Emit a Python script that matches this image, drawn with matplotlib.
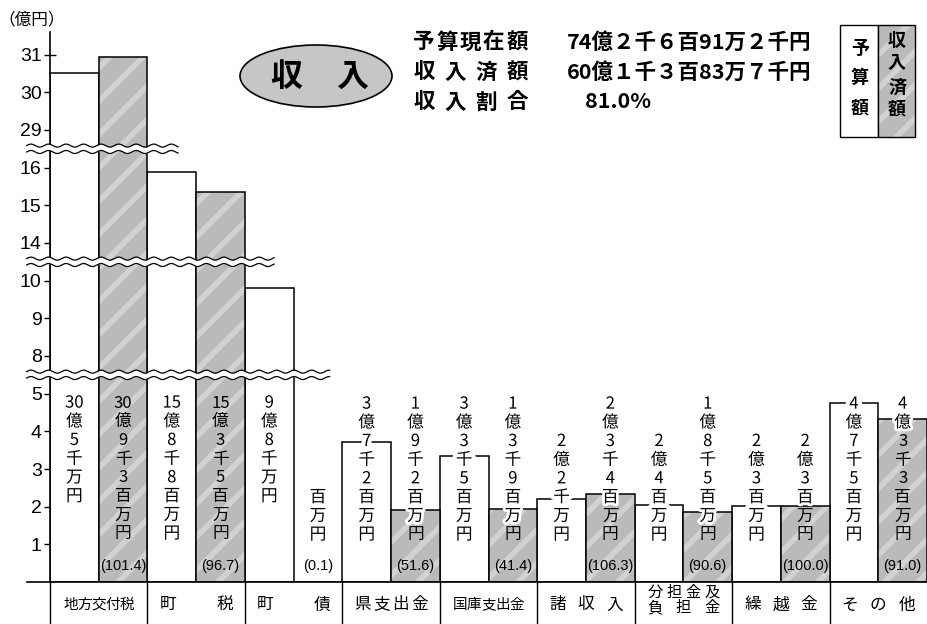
import re
import numpy as np
import matplotlib
matplotlib.use('Agg')
import matplotlib.pyplot as plt
import matplotlib.transforms as mtransforms
from matplotlib.patches import Ellipse, Rectangle
from matplotlib import patheffects as pe

plt.rcParams['font.family'] = ['Noto Sans CJK JP', 'DejaVu Sans']
plt.rcParams['hatch.linewidth'] = 4.0

# ---------------- data (億円) ----------------
categories = ['地方交付税', '町税', '町債', '県支出金', '国庫支出金',
              '諸収入', '分担金及負担金', '繰越金', 'その他']
budget = [30.50, 15.88, 9.80, 3.72, 3.35, 2.20, 2.04, 2.03, 4.75]
received = [30.93, 15.35, 0.01, 1.92, 1.93, 2.34, 1.85, 2.03, 4.33]
ratios = ['101.4', '96.7', '0.1', '51.6', '41.4', '106.3', '90.6', '100.0', '91.0']
budget_labels = ['30億5千万円', '15億8千8百万円', '9億8千万円', '3億7千2百万円',
                 '3億3千5百万円', '2億2千万円', '2億4百万円', '2億3百万円', '4億7千5百万円']
received_labels = ['30億9千3百万円', '15億3千5百万円', '百万円', '1億9千2百万円',
                   '1億3千9百万円', '2億3千4百万円', '1億8千5百万円', '2億3百万円', '4億3千3百万円']
yticks = [1, 2, 3, 4, 5, 8, 9, 10, 14, 15, 16, 29, 30, 31]
category_rows = [['地方交付税'], ['町税'], ['町債'], ['県支出金'], ['国庫支出金'],
                 ['諸収入'], ['分担金及', '負担金'], ['繰越金'], ['その他']]
summary_rows = [('予算現在額', '74億２千６百91万２千円'),
                ('収入済額', '60億１千３百83万７千円'),
                ('収入割合', '81.0%')]

# broken-axis scale: value breakpoints -> compressed display units
eps = 1e-3
seg_v = [0, 5.5, 7.5, 10.5, 13.5, 16.5, 28.5, 60]
seg_d = [0, 5.5, 5.5 + eps, 8.5 + eps, 8.5 + 2 * eps, 11.5 + 2 * eps, 11.5 + 3 * eps, 43 + 3 * eps]


def fwd(v):
    return np.interp(v, seg_v, seg_d)


def inv(d):
    return np.interp(d, seg_d, seg_v)


W, H = 928, 624
fig = plt.figure(figsize=(W / 100, H / 100), dpi=100)
ax = fig.add_axes([50 / W, 42 / H, 877 / W, 550 / H])
ax.set_yscale('function', functions=(fwd, inv))

x = np.arange(len(categories))
xb = x - 0.25
xr = x + 0.25

GRAY = '#bababa'
STRIPE = '#d2d2d2'

ax.bar(xb, budget, width=0.5, facecolor='white', edgecolor='black', lw=1.1, zorder=2)
ax.bar(xr, received, width=0.5, facecolor=GRAY, edgecolor=STRIPE, lw=0, hatch='/', zorder=2)
ax.bar(xr, received, width=0.5, fill=False, edgecolor='black', lw=1.1, zorder=2.1)

ax.set_xlim(-0.5, 8.5)
ax.set_ylim(0, 31.6)


def tokens(s):
    return re.findall(r'\d+|.', s)


pitch = 0.496
halo_w = [pe.withStroke(linewidth=6, foreground='white')]
halo_g = [pe.withStroke(linewidth=4, foreground='white')]
for i in range(len(categories)):
    for xc, top, lab, is_recv in [(xb[i], budget[i], budget_labels[i], False),
                                  (xr[i], received[i], received_labels[i], True)]:
        toks = tokens(lab)
        n = len(toks)
        if top > 5:
            ys = [4.75 - k * pitch for k in range(n)]
        else:
            ys = [1.25 + (n - 1 - k) * pitch for k in range(n)]
        for t, yy in zip(toks, ys):
            if not is_recv:
                eff = halo_w
            elif yy > top - 0.2:
                eff = halo_g
            else:
                eff = None
            ax.text(xc, yy, t, ha='center', va='center', fontsize=12,
                    zorder=4, path_effects=eff)
    ax.text(xr[i], 0.42, '(' + ratios[i] + ')', ha='center', va='center',
            fontsize=10.5, family=['Liberation Sans', 'DejaVu Sans'], zorder=4)

# axes styling
for s in ['top', 'right', 'bottom']:
    ax.spines[s].set_visible(False)
ax.spines['left'].set_linewidth(1.2)
ax.set_xticks([])
ax.set_yticks(yticks)
ax.set_yticklabels([str(t) for t in yticks], family=['Liberation Sans', 'DejaVu Sans'])
ax.tick_params(axis='y', direction='inout', length=8, width=1, pad=2, labelsize=14)
ax.yaxis.set_minor_locator(matplotlib.ticker.NullLocator())

# baseline and label-row grid
ax.plot([-0.74, 8.5], [0, 0], color='black', lw=1.2, clip_on=False, zorder=3)
tr2 = mtransforms.blended_transform_factory(ax.transData, ax.transAxes)
for xv in [-0.5] + [i + 0.5 for i in range(8)]:
    ax.plot([xv, xv], [0, -0.09], color='black', lw=1.0, transform=tr2, clip_on=False)

# category labels (justified)
span = 0.29
for i, rows in enumerate(category_rows):
    ypos = [-0.0418] if len(rows) == 1 else [-0.0185, -0.0465]
    for row, yv in zip(rows, ypos):
        chars = list(row)
        n = len(chars)
        if len(rows) > 1:
            fs = 11
        elif n >= 5:
            fs = 10.5
        else:
            fs = 12
        offs = np.linspace(-span, span, n) if n > 1 else [0]
        for c, dx in zip(chars, offs):
            ax.text(i + dx, yv, c, ha='center', va='center', fontsize=fs,
                    transform=tr2, clip_on=False)

# broken-axis wavy marks
tr_scaled = ax.transLimits + ax.transAxes
for yd, x1 in [(5.5, 2.37), (8.5 + eps, 1.80), (11.5 + 2 * eps, 0.814)]:
    xs = np.linspace(-0.74, x1, 500)
    w = 0.04 * np.sin(2 * np.pi * (xs + 0.74) / 0.18)
    up = yd + 0.085 + w
    lo = yd - 0.085 + w
    ax.fill_between(xs, lo, up, color='white', lw=0, transform=tr_scaled,
                    zorder=5, clip_on=False)
    ax.plot(xs, up, color='black', lw=0.9, transform=tr_scaled, zorder=6, clip_on=False)
    ax.plot(xs, lo, color='black', lw=0.9, transform=tr_scaled, zorder=6, clip_on=False)


def fx(px):
    return px / W


def fy(py):
    return 1 - py / H


fig.text(fx(32), fy(20), '（億円）', ha='center', va='center', fontsize=12)

# title ellipse
ell = Ellipse((fx(316), fy(76)), 152 / W, 62 / H, transform=fig.transFigure,
              facecolor='#c6c6c6', edgecolor='black', lw=1.2)
fig.add_artist(ell)
fig.text(fx(286), fy(77), '収', ha='center', va='center', fontsize=23, weight='bold')
fig.text(fx(352), fy(77), '入', ha='center', va='center', fontsize=23, weight='bold')

# summary block
row_y = [42, 72, 102]
for (lab, val), yy in zip(summary_rows, row_y):
    chars = list(lab)
    n = len(chars)
    xs_ = np.linspace(424, 517, n)
    for c, xx in zip(chars, xs_):
        fig.text(fx(xx), fy(yy), c, ha='center', va='center', fontsize=15.5, weight='bold')
    x0 = 585 if '%' in val else 567
    fig.text(fx(x0), fy(yy), val, ha='left', va='center', fontsize=15.5, weight='bold')

# legend boxes
fig.add_artist(Rectangle((fx(840), fy(137)), 38 / W, 112 / H, transform=fig.transFigure,
                         facecolor='white', edgecolor='black', lw=1.0))
fig.add_artist(Rectangle((fx(878), fy(137)), 37 / W, 112 / H, transform=fig.transFigure,
                         facecolor=GRAY, edgecolor=STRIPE, lw=0, hatch='/'))
fig.add_artist(Rectangle((fx(878), fy(137)), 37 / W, 112 / H, transform=fig.transFigure,
                         fill=False, edgecolor='black', lw=1.0))
for c, yy in zip('予算額', [48, 77, 108]):
    fig.text(fx(860), fy(yy), c, ha='center', va='center', fontsize=13, weight='bold')
for c, yy in zip('収入済額', [40, 63, 87, 109]):
    fig.text(fx(897), fy(yy), c, ha='center', va='center', fontsize=13, weight='bold')

fig.savefig('out.png', dpi=100)
